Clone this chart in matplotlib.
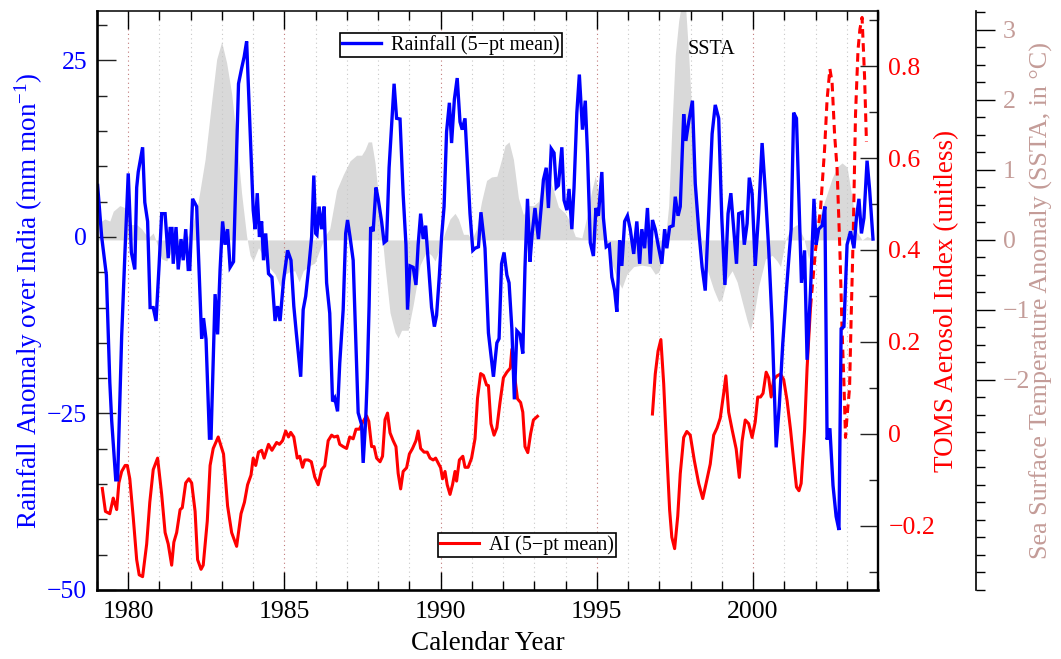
import numpy as np
import matplotlib
matplotlib.use('Agg')
import matplotlib.pyplot as plt
from matplotlib.ticker import FixedLocator, MultipleLocator, FuncFormatter
from matplotlib.lines import Line2D

plt.rcParams['font.family'] = ['Liberation Serif', 'DejaVu Serif']
plt.rcParams['mathtext.fontset'] = 'custom'
plt.rcParams['mathtext.rm'] = 'Liberation Serif'
plt.rcParams['mathtext.it'] = 'Liberation Serif:italic'
plt.rcParams['mathtext.default'] = 'regular'

# ---- data ----
# rainfall anomaly over India, 5-pt mean (mm/month)
rain_yr = [1979.02, 1979.15, 1979.30, 1979.41, 1979.47, 1979.60, 1979.66, 1979.79, 1979.90, 1980.00,
           1980.10, 1980.21, 1980.27, 1980.32, 1980.46, 1980.53, 1980.62, 1980.70, 1980.80, 1980.89,
           1980.99, 1981.07, 1981.18, 1981.28, 1981.34, 1981.40, 1981.44, 1981.53, 1981.60, 1981.69,
           1981.76, 1981.84, 1981.92, 1981.97, 1982.06, 1982.19, 1982.35, 1982.41, 1982.49, 1982.60,
           1982.65, 1982.78, 1982.86, 1982.94, 1983.02, 1983.10, 1983.18, 1983.26, 1983.37, 1983.53,
           1983.63, 1983.71, 1983.79, 1983.90, 1984.00, 1984.06, 1984.13, 1984.20, 1984.27, 1984.33,
           1984.40, 1984.49, 1984.60, 1984.70, 1984.78, 1984.86, 1984.97, 1985.10, 1985.21, 1985.30,
           1985.38, 1985.52, 1985.60, 1985.68, 1985.79, 1985.87, 1985.94, 1986.00, 1986.04, 1986.11,
           1986.19, 1986.27, 1986.35, 1986.45, 1986.54, 1986.61, 1986.70, 1986.77, 1986.88, 1986.96,
           1987.02, 1987.10, 1987.20, 1987.29, 1987.36, 1987.47, 1987.52, 1987.60, 1987.65, 1987.71,
           1987.76, 1987.84, 1987.93, 1988.00, 1988.11, 1988.19, 1988.27, 1988.35, 1988.43, 1988.51,
           1988.59, 1988.70, 1988.80, 1988.89, 1988.94, 1989.02, 1989.12, 1989.21, 1989.28, 1989.36,
           1989.44, 1989.52, 1989.60, 1989.71, 1989.80, 1989.87, 1989.96, 1990.03, 1990.11, 1990.19,
           1990.28, 1990.35, 1990.44, 1990.53, 1990.62, 1990.69, 1990.78, 1990.89, 1990.94, 1991.03,
           1991.10, 1991.21, 1991.29, 1991.42, 1991.53, 1991.69, 1991.80, 1991.87, 1991.95, 1992.03,
           1992.12, 1992.19, 1992.28, 1992.36, 1992.44, 1992.54, 1992.63, 1992.70, 1992.78, 1992.86,
           1992.93, 1993.02, 1993.13, 1993.22, 1993.29, 1993.38, 1993.45, 1993.54, 1993.63, 1993.70,
           1993.77, 1993.88, 1993.95, 1994.04, 1994.11, 1994.20, 1994.27, 1994.36, 1994.44, 1994.54,
           1994.63, 1994.70, 1994.79, 1994.89, 1994.97, 1995.05, 1995.16, 1995.21, 1995.30, 1995.40,
           1995.48, 1995.57, 1995.64, 1995.73, 1995.80, 1995.89, 1995.98, 1996.07, 1996.18, 1996.28,
           1996.37, 1996.44, 1996.53, 1996.62, 1996.71, 1996.78, 1996.87, 1996.96, 1997.08, 1997.17,
           1997.24, 1997.33, 1997.44, 1997.51, 1997.60, 1997.67, 1997.78, 1997.85, 1997.94, 1998.06,
           1998.15, 1998.26, 1998.37, 1998.47, 1998.58, 1998.69, 1998.79, 1998.90, 1999.00, 1999.10,
           1999.20, 1999.29, 1999.38, 1999.47, 1999.54, 1999.65, 1999.72, 1999.81, 1999.88, 1999.97,
           2000.07, 2000.18, 2000.29, 2000.40, 2000.50, 2000.61, 2000.74, 2000.84, 2000.95, 2001.06,
           2001.16, 2001.22, 2001.30, 2001.39, 2001.49, 2001.55, 2001.65, 2001.73, 2001.84, 2001.95,
           2002.02, 2002.10, 2002.21, 2002.30, 2002.37, 2002.46, 2002.56, 2002.66, 2002.75, 2002.82,
           2002.91, 2003.01, 2003.12, 2003.23, 2003.31, 2003.39, 2003.47, 2003.55, 2003.65, 2003.73,
           2003.84]
rain_val = [7.3, 0, -5.4, -20.6, -26, -34.4, -34.4, -14, -1.6, 9,
            -2.2, -4.6, 7, 9.2, 12.7, 4.9, 2.2, -10, -10, -11.9,
            -3.8, 3.3, 3.3, -3, 1.2, 1.2, -3.8, 1.4, -4.6, -0.3,
            -3.3, 1.1, -4.6, -4.6, 5.4, 4.3, -14.4, -11.5, -14.5, -28.5,
            -28.5, -8.1, -13.8, -4.6, 2.2, -1.1, 1.1, -4.3, -3.5, 21.7,
            23.9, 25.5, 27.7, 15.2, 3.8, 1.1, 6.2, 0, 2.2, -3.3,
            0.5, -5.2, -5.7, -11.9, -9.8, -11.9, -6.2, -1.9, -3.3, -9.8,
            -13.6, -19.8, -10.3, -8.4, -3.8, 0, 8.7, 0.5, 0.3, 4.3,
            1.1, 4.3, -6.5, -10.8, -23.3, -22.8, -24.7, -17.9, -10.3, 0.5,
            2.4, 0, -3.3, -15.2, -24.9, -26.6, -32, -26, -20, -9.8,
            1.4, 0.8, 7, 5.4, 2.2, -0.8, -0.5, 9.8, 15.7, 21.7,
            16.8, 16.7, 6, -1.1, -10.3, -4.1, -4.3, -6.8, -1.1, 3.3,
            -0.3, 1.6, -3.3, -10, -12.7, -11.1, -5.4, 0, 4.3, 14.9,
            19, 13.3, 19.5, 22.5, 16.3, 15.2, 16.8, 7.6, 3.3, -1.9,
            -1.6, -1.4, 3.5, -1.6, -13.6, -19.8, -15, -14.4, -3.8, -2.2,
            -5.4, -6.5, -13, -23, -13.3, -13.8, -16.5, -4.3, 5.4, -3.5,
            0.5, 4.1, -0.3, 4.3, 8.1, 9.8, 4.1, 12.5, 11.9, 7,
            7.3, 12.7, 5.2, 3.8, 6.8, 1.1, 7, 17.6, 23, 15.2,
            19.3, 11.9, -0.8, -2.7, 4.1, 3, 9.2, 2.7, -1.4, -1.1,
            -5.7, -7.6, -10.6, -0.5, -4.1, 2.2, 3, 1.1, -2.4, 2.2,
            -3.8, 1.1, -1.6, 4.1, -3.8, 2.4, 1.1, -1.1, -3.8, 1.1,
            -1.6, 1.4, 1.6, 5.7, 3, 4.3, 17.4, 13.6, 16.3, 19.3,
            7.6, 1.1, -4.3, -7.6, 3.3, 14.6, 18.7, 16.8, 2.7, -6.8,
            3.3, 6.2, 1.1, -3.8, 3.3, 3.5, -1.1, 1.9, 8.4, 6.2,
            -4.1, 3.5, 13.3, 6, -1.6, -12.2, -29.8, -23.9, -15.2, -8.1,
            -2.2, 1.1, 17.6, 16.8, 2.2, -6.5, -1.9, -17.4, -7.6, 5.4,
            -1.1, 1.1, 1.6, 4.3, -28.7, -27.1, -35.2, -39.6, -41.5, -13,
            -12.7, -1.1, 0.8, -1.6, 2.7, 5.4, 0.5, 2.7, 10.8, 6.8,
            -0.3]

# TOMS aerosol index, 5-pt mean, Nimbus-7 period
ai1_yr = [1979.17, 1979.27, 1979.41, 1979.52, 1979.57, 1979.63, 1979.70, 1979.79, 1979.90, 1979.97,
          1980.05, 1980.16, 1980.27, 1980.35, 1980.46, 1980.59, 1980.69, 1980.80, 1980.94, 1981.07,
          1981.18, 1981.28, 1981.39, 1981.46, 1981.55, 1981.66, 1981.73, 1981.84, 1981.94, 1982.03,
          1982.14, 1982.22, 1982.33, 1982.40, 1982.53, 1982.62, 1982.72, 1982.88, 1983.05, 1983.18,
          1983.31, 1983.47, 1983.61, 1983.72, 1983.82, 1983.93, 1984.00, 1984.08, 1984.17, 1984.27,
          1984.35, 1984.49, 1984.60, 1984.75, 1984.84, 1984.94, 1985.04, 1985.13, 1985.20, 1985.30,
          1985.41, 1985.49, 1985.58, 1985.65, 1985.76, 1985.86, 1985.97, 1986.08, 1986.19, 1986.29,
          1986.40, 1986.51, 1986.59, 1986.70, 1986.77, 1986.88, 1986.99, 1987.09, 1987.20, 1987.29,
          1987.40, 1987.52, 1987.63, 1987.70, 1987.79, 1987.87, 1987.95, 1988.06, 1988.14, 1988.22,
          1988.30, 1988.38, 1988.48, 1988.57, 1988.64, 1988.72, 1988.80, 1988.91, 1989.00, 1989.10,
          1989.21, 1989.28, 1989.36, 1989.47, 1989.57, 1989.66, 1989.76, 1989.84, 1989.93, 1990.00,
          1990.06, 1990.14, 1990.21, 1990.30, 1990.38, 1990.46, 1990.51, 1990.60, 1990.71, 1990.78,
          1990.88, 1990.99, 1991.10, 1991.18, 1991.28, 1991.37, 1991.47, 1991.53, 1991.61, 1991.71,
          1991.80, 1991.90, 1992.01, 1992.12, 1992.23, 1992.28, 1992.36, 1992.46, 1992.56, 1992.63,
          1992.70, 1992.79, 1992.88, 1992.97, 1993.10]
ai1_val = [-0.119, -0.169, -0.174, -0.14, -0.152, -0.165, -0.107, -0.082, -0.069, -0.069,
           -0.098, -0.182, -0.274, -0.307, -0.311, -0.24, -0.149, -0.078, -0.053, -0.132,
           -0.215, -0.24, -0.286, -0.236, -0.215, -0.165, -0.161, -0.107, -0.098, -0.107,
           -0.169, -0.274, -0.295, -0.286, -0.19, -0.069, -0.032, -0.007, -0.044, -0.157,
           -0.215, -0.245, -0.174, -0.149, -0.111, -0.09, -0.053, -0.069, -0.04, -0.036,
           -0.053, -0.023, -0.036, -0.019, -0.023, -0.015, 0.006, -0.007, 0.003, -0.007,
           -0.053, -0.049, -0.073, -0.057, -0.057, -0.061, -0.094, -0.111, -0.078, -0.07,
           -0.015, -0.003, -0.007, -0.005, -0.023, -0.028, -0.032, -0.007, -0.011, 0.01,
           0.01, 0.027, 0.039, 0.027, -0.028, -0.028, -0.053, -0.061, -0.049, 0.031,
           0.045, 0.002, -0.015, -0.028, -0.086, -0.12, -0.082, -0.074, -0.044, -0.032,
           -0.015, 0.006, -0.032, -0.04, -0.04, -0.053, -0.057, -0.053, -0.065, -0.074,
           -0.098, -0.082, -0.111, -0.132, -0.111, -0.082, -0.103, -0.057, -0.049, -0.073,
           -0.073, -0.053, -0.011, 0.077, 0.131, 0.127, 0.106, 0.105, 0.022, -0.003,
           0.013, 0.068, 0.122, 0.134, 0.143, 0.184, 0.13, 0.076, 0.068, 0.047,
           -0.028, -0.041, 0.0, 0.03, 0.038]

# TOMS aerosol index, 5-pt mean, Earth Probe period
ai2_yr = [1996.78, 1996.87, 1996.96, 1997.05, 1997.14, 1997.24, 1997.33, 1997.40, 1997.49, 1997.59,
          1997.67, 1997.78, 1997.88, 1997.99, 1998.12, 1998.26, 1998.39, 1998.51, 1998.63, 1998.74,
          1998.85, 1998.95, 1999.06, 1999.13, 1999.22, 1999.33, 1999.46, 1999.56, 1999.65, 1999.75,
          1999.86, 1999.97, 2000.07, 2000.15, 2000.24, 2000.32, 2000.42, 2000.50, 2000.58, 2000.66,
          2000.77, 2000.88, 2000.98, 2001.09, 2001.20, 2001.30, 2001.39, 2001.47, 2001.54, 2001.65,
          2001.73, 2001.84]
ai2_val = [0.043, 0.13, 0.18, 0.205, 0.109, -0.041, -0.166, -0.225, -0.25, -0.179,
           -0.087, -0.008, 0.005, -0.003, -0.058, -0.108, -0.141, -0.104, -0.066, -0.003,
           0.013, 0.034, 0.088, 0.126, 0.047, 0.009, -0.033, -0.095, -0.016, 0.03,
           0.022, -0.008, 0.026, 0.08, 0.08, 0.088, 0.134, 0.122, 0.08, 0.118,
           0.126, 0.13, 0.118, 0.072, 0.009, -0.058, -0.116, -0.124, -0.108, 0.009,
           0.143, 0.276]

# aerosol index after 2001 (dashed)
ai3_yr = [2001.84, 2002.00, 2002.16, 2002.29, 2002.37, 2002.46, 2002.53, 2002.61, 2002.69, 2002.78,
          2002.85, 2002.91, 2002.96, 2003.01, 2003.09, 2003.14, 2003.21, 2003.28, 2003.36, 2003.42,
          2003.49, 2003.57, 2003.63]
ai3_val = [0.276, 0.40, 0.489, 0.619, 0.727, 0.794, 0.765, 0.652, 0.577, 0.40,
           0.226, 0.109, -0.008, 0.038, 0.10, 0.25, 0.443, 0.694, 0.835, 0.88,
           0.906, 0.777, 0.635]

# sea surface temperature anomaly (deg C)
sst_yr = [1979.02, 1979.15, 1979.25, 1979.41, 1979.52, 1979.73, 1979.90, 1980.00, 1980.10, 1980.27,
          1980.43, 1980.64, 1980.80, 1980.90, 1981.07, 1981.23, 1981.39, 1981.60, 1981.81, 1982.03,
          1982.24, 1982.46, 1982.67, 1982.83, 1982.99, 1983.15, 1983.31, 1983.47, 1983.63, 1983.79,
          1983.90, 1984.00, 1984.17, 1984.27, 1984.49, 1984.70, 1984.86, 1985.02, 1985.18, 1985.33,
          1985.47, 1985.60, 1985.76, 1985.97, 1986.13, 1986.29, 1986.45, 1986.67, 1986.88, 1987.10,
          1987.31, 1987.47, 1987.58, 1987.68, 1987.79, 1987.90, 1988.06, 1988.22, 1988.38, 1988.54,
          1988.64, 1988.75, 1988.96, 1989.12, 1989.34, 1989.55, 1989.71, 1989.82, 1989.98, 1990.14,
          1990.30, 1990.46, 1990.57, 1990.73, 1990.88, 1990.99, 1991.15, 1991.31, 1991.47, 1991.63,
          1991.80, 1991.95, 1992.06, 1992.19, 1992.33, 1992.49, 1992.65, 1992.81, 1992.97, 1993.13,
          1993.29, 1993.45, 1993.61, 1993.77, 1993.99, 1994.15, 1994.31, 1994.52, 1994.68, 1994.84,
          1994.95, 1995.11, 1995.27, 1995.43, 1995.64, 1995.80, 1995.96, 1996.18, 1996.44, 1996.71,
          1996.87, 1996.98, 1997.14, 1997.30, 1997.40, 1997.51, 1997.62, 1997.72, 1997.83, 1997.94,
          1998.04, 1998.15, 1998.26, 1998.42, 1998.58, 1998.74, 1998.90, 1999.00, 1999.17, 1999.33,
          1999.49, 1999.65, 1999.81, 1999.91, 2000.02, 2000.18, 2000.40, 2000.61, 2000.77, 2000.88,
          2001.04, 2001.20, 2001.41, 2001.62, 2001.78, 2001.94, 2002.16, 2002.37, 2002.53, 2002.69,
          2002.85, 2003.01, 2003.17, 2003.33, 2003.49, 2003.65, 2003.81]
sst_val = [0.38, 0.27, 0.30, 0.27, 0.41, 0.49, 0.46, 0.41, 0.22, 0.22,
           0.16, 0.03, 0.10, -0.03, -0.27, -0.30, -0.16, -0.05, -0.03, 0.16,
           0.55, 1.15, 1.98, 2.58, 2.83, 2.53, 2.09, 1.43, 0.66, 0.05,
           -0.22, -0.30, -0.11, -0.19, -0.38, -0.49, -0.66, -0.49, -0.45, -0.44,
           -0.60, -0.44, -0.38, -0.33, -0.14, 0.05, 0.16, 0.71, 0.93, 1.13,
           1.21, 1.21, 1.29, 1.40, 1.40, 1.10, 0.38, -0.38, -1.04, -1.32,
           -1.40, -1.29, -1.29, -0.93, -0.36, -0.16, -0.22, -0.30, -0.11, 0.11,
           0.30, 0.38, 0.30, 0.08, 0.08, 0.00, 0.16, 0.55, 0.85, 0.90,
           0.91, 1.15, 1.35, 1.40, 1.15, 0.60, 0.36, 0.49, 0.49, 0.55,
           0.88, 0.91, 0.71, 0.47, 0.38, 0.25, 0.05, 0.03, 0.33, 0.71,
           0.91, 0.55, 0.05, -0.27, -0.55, -0.69, -0.49, -0.38, -0.36, -0.38,
           -0.49, -0.46, -0.22, 0.49, 1.59, 2.64, 3.13, 3.40, 3.40, 2.64,
           1.81, 0.99, 0.27, -0.27, -0.49, -0.71, -0.88, -0.85, -0.55, -0.44,
           -0.60, -0.88, -1.15, -1.29, -1.10, -0.66, -0.27, -0.22, -0.30, -0.38,
           0.00, 0.16, 0.22, 0.03, -0.27, 0.05, 0.38, 0.66, 0.88, 1.04,
           1.10, 1.04, 0.60, 0.11, 0.00, 0.05, 0.02]

year_ticks = [1980, 1985, 1990, 1995, 2000]
rain_ticks = [-50, -25, 0, 25]
ai_ticks = [-0.2, 0.0, 0.2, 0.4, 0.6, 0.8]
sst_ticks = [-2, -1, 0, 1, 2, 3]

SST_COLOR = '#c49c98'
W, H = 1061, 659

fig = plt.figure(figsize=(W / 100, H / 100), dpi=100)
ax = fig.add_axes([97 / W, 1 - 590 / H, 781 / W, 579 / H])
ax_sst = ax.twinx()
ax_ai = ax.twinx()
ax_sst.set_zorder(1)
ax_ai.set_zorder(2)
ax.set_zorder(3)
ax.patch.set_visible(False)

# SSTA shading and year grid on the bottom layer
ax_sst.fill_between(sst_yr, 0, sst_val, color='#d9d9d9', lw=0, zorder=1)
for yr in range(1980, 2004):
    c = '#c07878' if yr % 5 == 0 else '#c8c8c8'
    ax_sst.axvline(yr, color=c, lw=0.8, ls=(0, (1, 3)), zorder=2)

ax.plot(rain_yr, rain_val, color='blue', lw=2.4, solid_joinstyle='miter')
ax_ai.plot(ai1_yr, ai1_val, color='red', lw=2.2)
ax_ai.plot(ai2_yr, ai2_val, color='red', lw=2.2)
ax_ai.plot(ai3_yr, ai3_val, color='red', lw=2.2, dashes=(2.8, 1.8))

ax.set_xlim(1979, 2004)
ax.set_ylim(-50, 32)
ax_ai.set_ylim(-0.34, 0.92)
ax_sst.set_ylim(-5.0, 3.27)

# x axis
ax.xaxis.set_major_locator(FixedLocator(year_ticks))
ax.xaxis.set_minor_locator(MultipleLocator(1))
ax.xaxis.set_major_formatter(FuncFormatter(lambda v, p: '%d' % v))
ax.tick_params(axis='x', which='both', direction='in', top=True, bottom=True,
               labelsize=18.5, pad=8, width=1.0, color='black')
ax.tick_params(axis='x', which='major', length=13)
ax.tick_params(axis='x', which='minor', length=6.5)
ax.set_xlabel('Calendar Year', fontsize=19.5)
ax.xaxis.set_label_coords(0.5, -0.07)

# rainfall axis (left)
ax.yaxis.set_major_locator(FixedLocator(rain_ticks))
ax.yaxis.set_minor_locator(MultipleLocator(5))
ax.tick_params(axis='y', which='both', direction='in', left=True, right=False,
               labelsize=18.5, labelcolor='blue', pad=7, width=1.0, color='#222222')
ax.tick_params(axis='y', which='major', length=14)
ax.tick_params(axis='y', which='minor', length=7)
ax.set_ylabel('Rainfall Anomaly over India (mm mon$^{-1}$)', color='blue', fontsize=19.5)
ax.yaxis.set_label_coords(-0.066, 0.5)

for s in ['left', 'bottom']:
    ax.spines[s].set_linewidth(1.9)
ax.spines['top'].set_linewidth(1.1)
ax.spines['right'].set_visible(False)

# aerosol index axis (right)
ax_ai.yaxis.set_major_locator(FixedLocator(ai_ticks))
ax_ai.yaxis.set_minor_locator(MultipleLocator(0.1))
ax_ai.yaxis.set_major_formatter(FuncFormatter(
    lambda v, p: '0' if abs(v) < 1e-9 else ('%.1f' % v).replace('-', '\u2212')))
ax_ai.tick_params(axis='y', which='both', direction='in', labelsize=18.5,
                  labelcolor='red', pad=7.5, width=1.0, color='#222222')
ax_ai.tick_params(axis='y', which='major', length=13)
ax_ai.tick_params(axis='y', which='minor', length=6.5)
ax_ai.set_ylabel('TOMS Aerosol Index (unitless)', color='red', fontsize=19.5)
ax_ai.yaxis.set_label_coords(1.0717, 0.5)
for s in ['left', 'top', 'bottom']:
    ax_ai.spines[s].set_visible(False)
ax_ai.spines['right'].set_linewidth(1.7)

# SSTA axis (offset right)
ax_sst.spines['right'].set_position(('axes', 1.1255))
for s in ['left', 'top', 'bottom']:
    ax_sst.spines[s].set_visible(False)
ax_sst.spines['right'].set_linewidth(1.2)
ax_sst.yaxis.set_major_locator(FixedLocator(sst_ticks))
ax_sst.yaxis.set_minor_locator(MultipleLocator(0.25))
ax_sst.tick_params(axis='y', which='both', direction='out', labelsize=18.5,
                   labelcolor=SST_COLOR, pad=5.5, width=1.0, color='black')
ax_sst.tick_params(axis='y', which='major', length=14)
ax_sst.tick_params(axis='y', which='minor', length=6.5)
ax_sst.set_ylabel('Sea Surface Temperature Anomaly (SSTA, in \u00b0C)', color=SST_COLOR,
                  fontsize=18.8)
ax_sst.yaxis.set_label_coords(1.1946, 0.5)

# legends and label
leg_kw = dict(loc='upper left', bbox_transform=fig.transFigure, fontsize=14.5,
              frameon=True, fancybox=False, framealpha=1, edgecolor='black',
              borderpad=0.1, borderaxespad=0, handlelength=1.95, handletextpad=0.5)
leg1 = ax.legend([Line2D([], [], color='blue', lw=2.4)], ['Rainfall (5\u2212pt mean)'],
                 bbox_to_anchor=(340 / W, 1 - 33 / H), **leg_kw)
leg1.get_frame().set_linewidth(1.2)
ax.add_artist(leg1)
leg2 = ax.legend([Line2D([], [], color='red', lw=2.2)], ['AI (5\u2212pt mean)'],
                 bbox_to_anchor=(438 / W, 1 - 533 / H), **leg_kw)
leg2.get_frame().set_linewidth(1.2)
ax.text((711 - 97) / 781, (590 - 50) / 579, 'SSTA', transform=ax.transAxes,
        ha='center', va='center', fontsize=14.5)

fig.savefig('out.png', dpi=100)
